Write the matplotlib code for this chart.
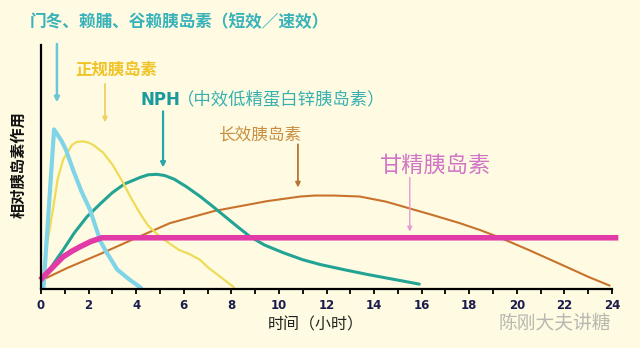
import matplotlib
matplotlib.use("Agg")
import matplotlib.pyplot as plt

plt.rcParams['font.family'] = ['Noto Sans CJK SC', 'DejaVu Sans']

# hours / relative insulin action (0-100 scale)
rapid_t = [0.1, 0.55, 0.87, 1.05, 1.34, 1.7, 2.06, 2.5, 2.77, 3.2, 3.7, 4.2]
rapid_v = [0, 65.4, 60.6, 57, 49, 40, 32.5, 19.5, 14.8, 8, 4, 0.5]

regular_t = [0.05, 0.25, 0.5, 0.7, 0.93, 1.3, 1.5, 1.77, 2.0, 2.2, 2.6, 3.0, 3.45,
             3.8, 4.16, 4.5, 5.0, 5.8, 6.2, 6.68, 7.0, 7.4, 8.1]
regular_v = [3.7, 18, 32.5, 45, 53, 59, 60.3, 60.5, 60, 59, 56, 51, 43.6,
             37, 31, 26, 21.4, 16, 14.5, 12, 9, 6, 0.8]

nph_t = [0.1, 0.5, 0.93, 1.4, 1.93, 2.5, 3.0, 3.5, 4.16, 4.5, 4.87, 5.2, 5.6, 6.1,
         6.68, 7.2, 7.7, 8.2, 8.78, 9.4, 10.2, 11.0, 11.75, 12.7, 13.7, 14.8, 15.9]
nph_v = [3.7, 10, 16, 23, 29.6, 35, 39.5, 43, 45.7, 46.8, 47, 46.5, 45, 42,
         38, 34, 30, 26, 21.5, 18, 14.8, 12, 10, 8, 6, 4, 2]

long_t = [0.05, 1.1, 2.5, 3.9, 5.42, 7.3, 9.5, 10.9, 11.5, 12.3, 13.4, 14.5, 15.5,
          16.5, 17.6, 18.5, 19.3, 20.5, 22.1, 23.0, 23.9]
long_v = [3.7, 8.6, 14.4, 20.5, 27, 32, 36, 37.9, 38.3, 38.3, 37.9, 35.8, 33,
          30.2, 27, 24, 21, 16, 9, 5, 1.4]

glargine_t = [0.05, 0.5, 0.93, 1.3, 1.64, 2.1, 2.56, 24.15]
glargine_v = [4.5, 9, 13.2, 15.5, 17.3, 19.5, 21, 21]

xticks = list(range(0, 25, 2))

bg = '#fefbe2'
fig = plt.figure(figsize=(6.4, 3.48), dpi=100, facecolor=bg)
ax = fig.add_axes([41/640, 1 - 289/348, 571/640, 244/348])
ax.set_facecolor('none')

ax.plot(long_t, long_v, color='#c8722c', lw=1.5, solid_capstyle='round', solid_joinstyle='round')
ax.plot(nph_t, nph_v, color='#22a394', lw=2.2, solid_capstyle='round', solid_joinstyle='round')
ax.plot(regular_t, regular_v, color='#eedc58', lw=1.6, solid_capstyle='round', solid_joinstyle='round')
ax.plot(rapid_t, rapid_v, color='#7fd4e8', lw=3.0, solid_capstyle='round', solid_joinstyle='round')
ax.plot(glargine_t, glargine_v, color='#e23aa6', lw=4.0, clip_on=False, solid_joinstyle='round')

ax.set_xlim(0, 24)
ax.set_ylim(0, 100)
ax.spines['top'].set_visible(False)
ax.spines['right'].set_visible(False)
ax.spines['bottom'].set_linewidth(1.6)
ax.spines['left'].set_linewidth(1.6)
ax.set_yticks([])
ax.set_xticks(xticks)
ax.set_xticks(range(1, 24, 2), minor=True)
ax.tick_params(axis='x', which='both', direction='out', length=3.5, width=1.3)
for lab in ax.get_xticklabels():
    lab.set_fontweight('bold')
    lab.set_fontsize(8.5)
    lab.set_color('#1c1c4c')
    lab.set_family('DejaVu Sans')

# arrows (data coords)
def arrow(x, y0, y1, color, lw):
    ax.annotate('', xy=(x, y1), xytext=(x, y0), annotation_clip=False,
                arrowprops=dict(arrowstyle='-|>', color=color, lw=lw,
                                mutation_scale=7, shrinkA=0, shrinkB=0))

arrow(0.67, 100.4, 76.5, '#6cc6d8', 1.8)
arrow(2.69, 84, 68.3, '#f0d060', 1.3)
arrow(5.13, 72.8, 49.8, '#2aa6a8', 1.6)
arrow(10.8, 59.3, 41.6, '#b87434', 1.3)
arrow(15.5, 45.7, 23.5, '#e69ad6', 1.0)

def ftext(px, py, s, **kw):
    fig.text(px/640, 1 - py/348, s, **kw)

ftext(30, 22, '门冬、赖脯、谷赖胰岛素（短效／速效）', fontsize=12, color='#3ab2ba',
      fontweight='bold', ha='left', va='center')
ftext(75, 70, '正规胰岛素', fontsize=11.8, color='#f0c428', fontweight='bold',
      ha='left', va='center')
ftext(140, 100, 'NPH', fontsize=12, color='#1a9a9c', fontweight='bold',
      ha='left', va='center', family='DejaVu Sans')
ftext(177, 100, '（中效低精蛋白锌胰岛素）', fontsize=12.5, color='#38b0b0',
      ha='left', va='center')
ftext(218, 135, '长效胰岛素', fontsize=12, color='#c88e40', ha='left', va='center')
ftext(380, 165, '甘精胰岛素', fontsize=16, color='#d274c6', ha='left', va='center')

ftext(18, 165, '相对胰岛素作用', fontsize=11, color='#111111', fontweight='bold',
      rotation=90, ha='center', va='center')
ftext(316, 325, '时间（小时）', fontsize=11.5, color='#222222', ha='center', va='center')

ftext(555, 324, '陈刚大夫讲糖', fontsize=13.5, color='#b8b8b0', ha='center', va='center')

fig.savefig('out.png', dpi=100, facecolor=bg)
